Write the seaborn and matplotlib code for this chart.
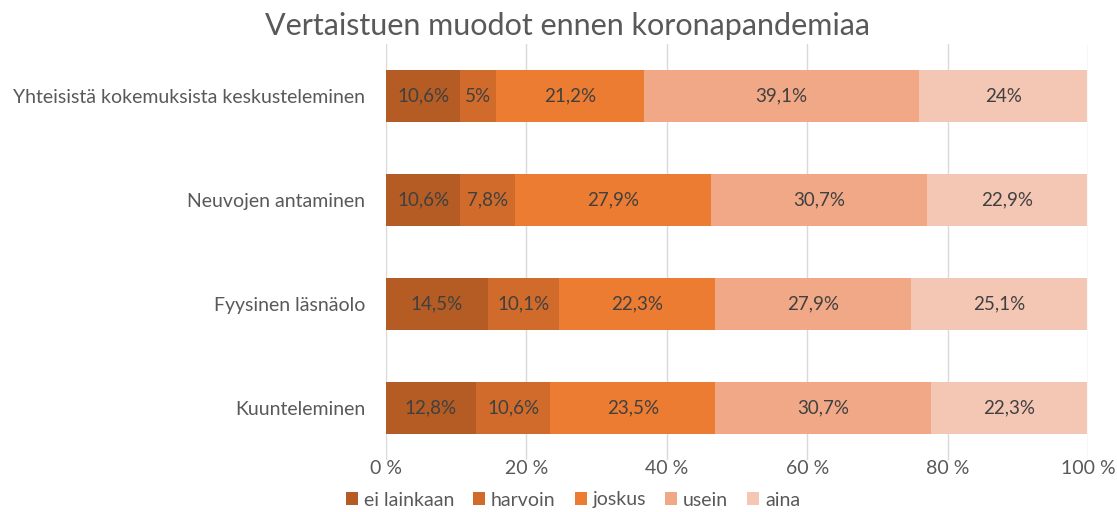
import matplotlib
matplotlib.use("Agg")
import matplotlib.pyplot as plt
import seaborn as sns
import numpy as np
from matplotlib.patches import Patch

categories = ["Yhteisistä kokemuksista keskusteleminen", "Neuvojen antaminen",
              "Fyysinen läsnäolo", "Kuunteleminen"]
series_names = ["ei lainkaan", "harvoin", "joskus", "usein", "aina"]
ei_lainkaan = [10.6, 10.6, 14.5, 12.8]
harvoin = [5.0, 7.8, 10.1, 10.6]
joskus = [21.2, 27.9, 22.3, 23.5]
usein = [39.1, 30.7, 27.9, 30.7]
aina = [24.0, 22.9, 25.1, 22.3]
xticks = [0, 20, 40, 60, 80, 100]
xtick_labels = ["0 %", "20 %", "40 %", "60 %", "80 %", "100 %"]
title = "Vertaistuen muodot ennen koronapandemiaa"

colors = ["#B45C24", "#D06B2B", "#EC7C32", "#F0A887", "#F4C6B4"]

sns.set_theme(style="white")
plt.rcParams['font.family'] = ['Lato', 'DejaVu Sans']
text_col = "#595959"

fig = plt.figure(figsize=(11.17, 5.12), dpi=100)
ax = fig.add_axes([386/1117, 1-460/512, (1088-386)/1117, 416/512])

series = [ei_lainkaan, harvoin, joskus, usein, aina]
left = np.zeros(len(categories))
for name, vals, col in zip(series_names, series, colors):
    sns.barplot(x=vals, y=categories, left=left, color=col, orient="h",
                width=0.5, ax=ax, saturation=1, edgecolor="none", linewidth=0)
    cont = ax.containers[-1]
    labels = [f"{v:g}".replace(".", ",") + "%" for v in vals]
    ax.bar_label(cont, labels=labels, label_type="center", fontsize=13.5,
                 color="#404040")
    left = left + np.array(vals)

ax.set_xlim(0, 100)
ax.set_ylim(3.5, -0.5)
ax.set_xticks(xticks)
ax.set_xticklabels(xtick_labels, fontsize=14, color=text_col)
ax.tick_params(axis="x", length=0, pad=0)
ax.tick_params(axis="y", length=0, pad=15, labelsize=14, labelcolor=text_col)
ax.xaxis.grid(True, color="#D9D9D9", linewidth=1)
ax.set_axisbelow(True)
for s in ax.spines.values():
    s.set_visible(False)
ax.set_xlabel("")
ax.set_ylabel("")

handles = [Patch(facecolor=c, edgecolor="none") for c in colors]
fig.legend(handles, series_names, loc="center", bbox_to_anchor=(0.513, 1-500/512),
           ncol=5, frameon=False, fontsize=14, labelcolor=text_col,
           handlelength=0.6, handleheight=0.6, handletextpad=0.3, columnspacing=1.0)

fig.text(0.508, 1-26/512, title, ha="center", va="center", fontsize=22, color=text_col)

fig.savefig("out.png", dpi=100)
